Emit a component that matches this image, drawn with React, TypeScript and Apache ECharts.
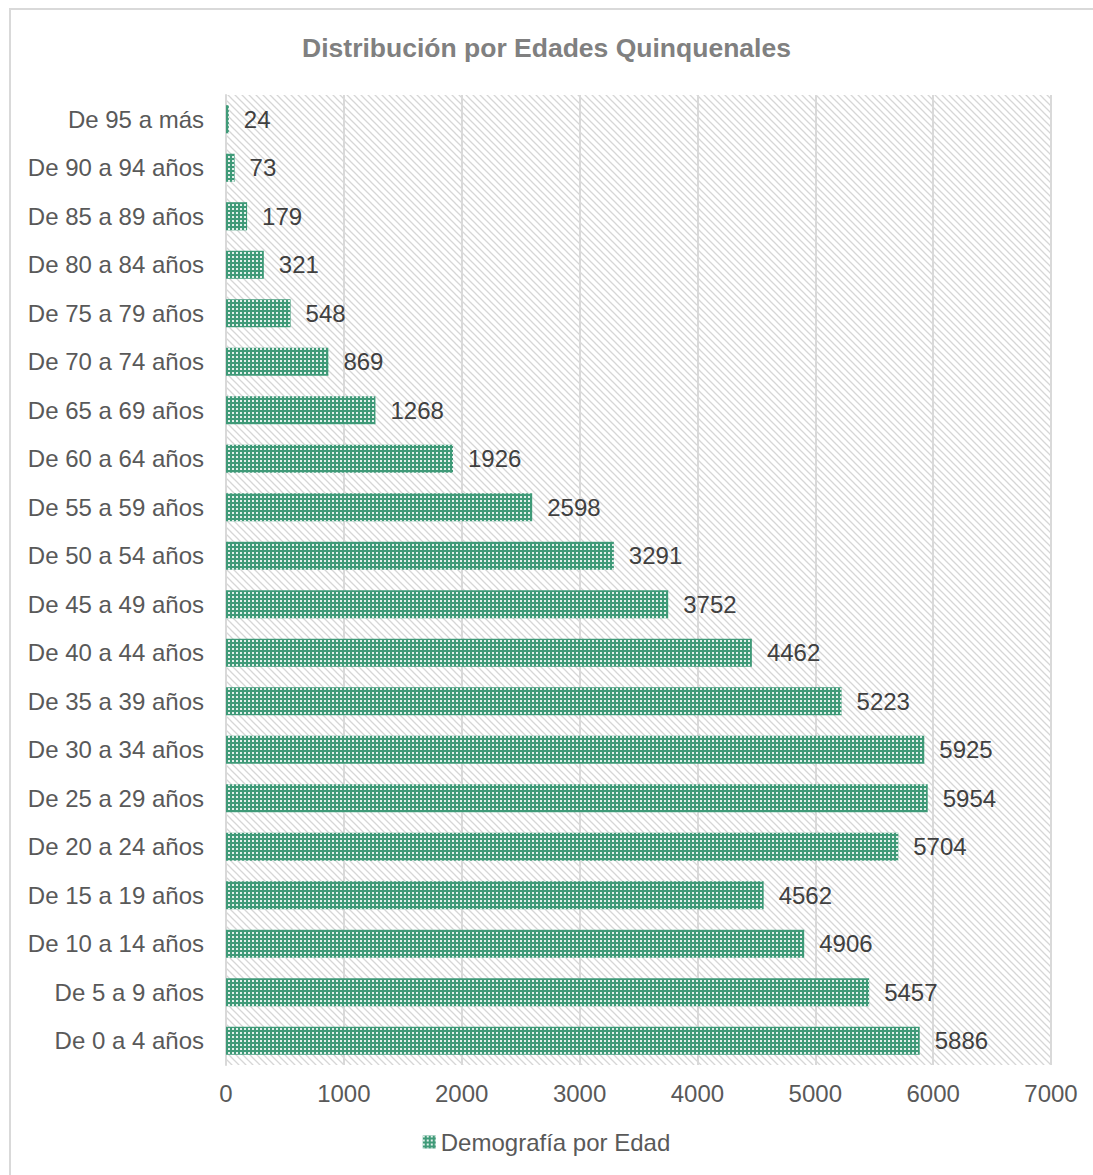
import React, { useEffect, useRef } from "react";
import * as echarts from "echarts";

const categories = [
  "De 0 a 4 años", "De 5 a 9 años", "De 10 a 14 años", "De 15 a 19 años",
  "De 20 a 24 años", "De 25 a 29 años", "De 30 a 34 años", "De 35 a 39 años",
  "De 40 a 44 años", "De 45 a 49 años", "De 50 a 54 años", "De 55 a 59 años",
  "De 60 a 64 años", "De 65 a 69 años", "De 70 a 74 años", "De 75 a 79 años",
  "De 80 a 84 años", "De 85 a 89 años", "De 90 a 94 años", "De 95 a más",
];
const values = [
  5886, 5457, 4906, 4562, 5704, 5954, 5925, 5223, 4462, 3752,
  3291, 2598, 1926, 1268, 869, 548, 321, 179, 73, 24,
];
const seriesName = "Demografía por Edad";
const title = "Distribución por Edades Quinquenales";

function makeHatch(): string {
  const s = 7;
  const c = document.createElement("canvas");
  c.width = s;
  c.height = s;
  const ctx = c.getContext("2d")!;
  ctx.fillStyle = "#ffffff";
  ctx.fillRect(0, 0, s, s);
  ctx.strokeStyle = "#d6d6d6";
  ctx.lineWidth = 1.3;
  ctx.beginPath();
  ctx.moveTo(-1, -1);
  ctx.lineTo(s + 1, s + 1);
  ctx.moveTo(-s - 1, -1);
  ctx.lineTo(1, s + 1);
  ctx.moveTo(s - 1, -1);
  ctx.lineTo(2 * s + 1, s + 1);
  ctx.stroke();
  return c.toDataURL();
}

export default function App() {
  const ref = useRef<HTMLDivElement>(null);
  useEffect(() => {
    if (!ref.current) return;
    const chart = echarts.init(ref.current, undefined, { renderer: "svg" });
    const hatch = makeHatch();
    const font = "Liberation Sans, Arial, sans-serif";
    chart.setOption({
      animation: false,
      backgroundColor: "#ffffff",
      title: {
        text: title,
        left: "center",
        top: 29,
        textStyle: { fontFamily: font, fontSize: 26.5, fontWeight: "bold", color: "#808080" },
      },
      graphic: [
        {
          type: "rect",
          shape: { x: 10, y: 9, width: 1200, height: 1300 },
          style: { fill: "none", stroke: "#d9d9d9", lineWidth: 2 },
          z: -10,
        },
      ],
      grid: {
        left: 226,
        right: 42,
        top: 95,
        bottom: 110,
        show: true,
        borderWidth: 0,
        backgroundColor: { image: hatch, repeat: "repeat" } as any,
      },
      legend: {
        bottom: 16,
        left: "center",
        itemWidth: 13,
        itemHeight: 13,
        itemGap: 4,
        icon: "rect",
        textStyle: { fontFamily: font, fontSize: 24, color: "#595959" },
        data: [seriesName],
      },
      xAxis: {
        type: "value",
        min: 0,
        max: 7000,
        interval: 1000,
        axisLine: { show: false },
        axisTick: { show: false },
        axisLabel: {
          fontFamily: font,
          fontSize: 24,
          color: "#595959",
          margin: 16,
          formatter: (v: number) => String(v),
        },
        splitLine: { show: true, lineStyle: { color: "#d9d9d9", width: 2 } },
      },
      yAxis: {
        type: "category",
        data: categories,
        axisLine: { show: true, lineStyle: { color: "#d9d9d9", width: 2 } },
        axisTick: { show: false },
        axisLabel: { fontFamily: font, fontSize: 24, color: "#595959", margin: 22 },
      },
      series: [
        {
          name: seriesName,
          type: "bar",
          data: values,
          barCategoryGap: "42%",
          itemStyle: {
            color: "#3f9a78",
            decal: {
              symbol: "rect",
              symbolSize: 1,
              color: "rgba(255,255,255,0.85)",
              dashArrayX: [2, 2],
              dashArrayY: [2, 2],
              rotation: 0,
            },
          },
          label: {
            show: true,
            position: "right",
            distance: 15,
            fontFamily: font,
            fontSize: 24,
            color: "#404040",
          },
        },
      ],
    });
    return () => chart.dispose();
  }, []);
  return (
    <div
      ref={ref}
      style={{ position: "absolute", left: 0, top: 0, width: 1093, height: 1175 }}
    />
  );
}
